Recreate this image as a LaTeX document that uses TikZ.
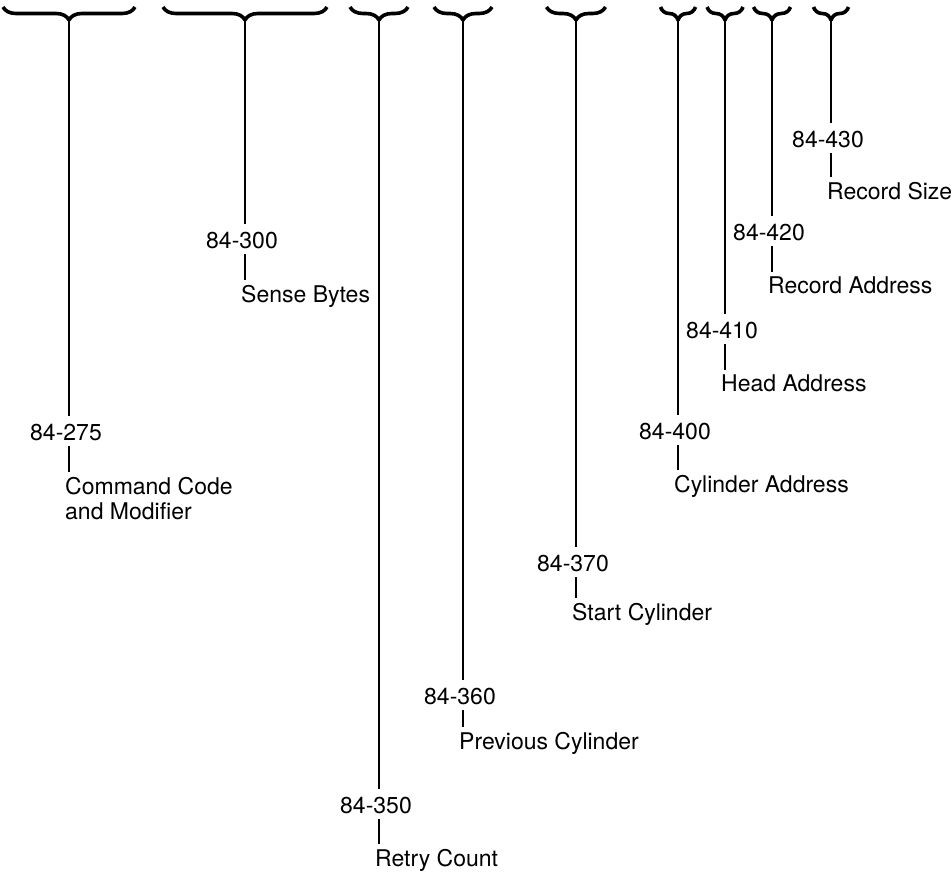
\documentclass[tikz,border=0pt]{standalone}
\usepackage{fontspec}
\setmainfont{TeX Gyre Heros}
\usetikzlibrary{decorations.pathreplacing}
\tikzset{
	lbl/.style={font=\fontsize{23}{25}\selectfont, inner sep=0pt},
	num/.style={lbl, anchor=north},
	txt/.style={lbl, anchor=north west, align=left},
	curly/.style={line width=3.6pt, line join=round, decorate,
		decoration={brace, amplitude=13pt}},
	wire/.style={line width=2.8pt}
}
\begin{document}
\begin{tikzpicture}[x=1pt,y=-1pt]
	\useasboundingbox (0,0) rectangle (952,872);
	% stem x / brace half width / number top / text top
	\foreach \i/\x/\w/\ny/\ty/\num/\txt in {
		1/69/66/424/477/84-275/{Command Code\\and Modifier},
		2/245/82/232/285/84-300/Sense Bytes,
		3/379/29/797/849/84-350/Retry Count,
		4/463/29/688/732/84-360/Previous Cylinder,
		5/576/29.5/555/603/84-370/Start Cylinder,
		6/678/17.5/423/475/84-400/Cylinder Address,
		7/725/18/322/375/84-410/Head Address,
		8/772/18.5/224/277/84-420/Record Address,
		9/831/17.5/131/182/84-430/Record Size}
	{
		\draw[curly] ({\x+\w},7) -- ({\x-\w},7);
		\coordinate (b\i) at (\x,20);
		\node[num] (n\i) at ({\x-3},\ny) {\num};
		\node[txt] (t\i) at ({\x-4},\ty) {\txt};
		\draw[wire, shorten >=8pt] (b\i) -- (n\i.north -| b\i);
		\draw[wire, shorten <=5pt, shorten >=5pt]
		(n\i.south -| b\i) -- (t\i.north -| b\i);
	}
\end{tikzpicture}
\end{document}
